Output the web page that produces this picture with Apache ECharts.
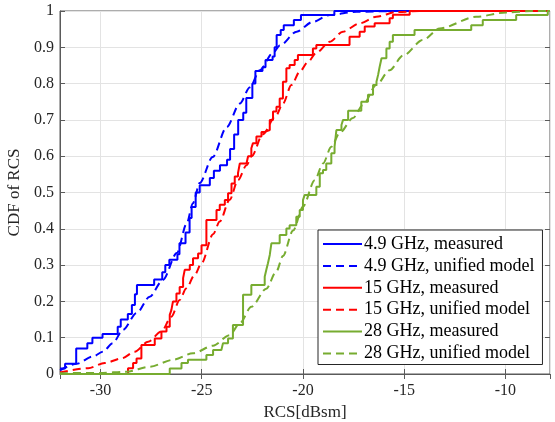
<!DOCTYPE html>
<html>
<head>
<meta charset="utf-8">
<script src="https://cdn.jsdelivr.net/npm/echarts@6/dist/echarts.min.js"></script>
<style>html,body{margin:0;padding:0;background:#fff}#c{width:555px;height:422px}</style>
</head>
<body>
<div id="c"></div>
<script>
const legendNames = ['4.9 GHz, measured', '4.9 GHz, unified model', '15 GHz, measured', '15 GHz, unified model', '28 GHz, measured', '28 GHz, unified model'];
const xTicks = [-30, -25, -20, -15, -10];

const blueMeasX = [-32.0, -31.75, -31.2, -30.65, -30.4, -29.9, -29.15, -29.0, -28.65, -28.45, -28.3, -28.2, -27.35, -26.95, -26.8, -26.6, -26.2, -26.1, -25.8, -25.6, -25.5, -25.3, -25.1, -24.6, -24.4, -24.1, -23.75, -23.6, -23.4, -23.2, -22.95, -22.8, -22.5, -22.35, -22.0, -21.85, -21.5, -21.4, -21.3, -21.1, -20.95, -20.45, -20.1, -18.45, -7.8];
const blueMeasY = [0.015, 0.028, 0.07, 0.085, 0.1, 0.11, 0.13, 0.15, 0.165, 0.19, 0.22, 0.245, 0.26, 0.28, 0.3, 0.315, 0.33, 0.36, 0.39, 0.43, 0.46, 0.5, 0.52, 0.54, 0.56, 0.575, 0.59, 0.62, 0.66, 0.70, 0.72, 0.76, 0.80, 0.835, 0.845, 0.865, 0.875, 0.9, 0.934, 0.948, 0.961, 0.975, 0.989, 1.0, 1.0];

const blueModelX = [-32.0, -31.18, -30.38, -29.89, -29.39, -28.9, -28.21, -27.57, -26.92, -26.23, -25.74, -25.44, -25.1, -24.46, -23.77, -23.12, -22.62, -22.13, -21.49, -21.14, -20.31, -19.52, -18.68, -17.35, -15.2, -7.8];
const blueModelY = [0.01, 0.028, 0.048, 0.061, 0.085, 0.121, 0.168, 0.213, 0.259, 0.333, 0.415, 0.47, 0.526, 0.598, 0.68, 0.745, 0.79, 0.837, 0.884, 0.905, 0.943, 0.97, 0.989, 0.998, 1.0, 1.0];

const redMeasX = [-32.0, -28.64, -28.39, -28.22, -27.98, -27.32, -26.99, -26.74, -26.58, -26.5, -26.42, -26.25, -26.09, -25.92, -25.84, -25.59, -25.43, -25.18, -25.01, -24.77, -24.27, -24.11, -23.86, -23.7, -23.53, -23.37, -23.21, -23.12, -22.79, -22.71, -22.55, -22.47, -22.3, -22.05, -21.89, -21.64, -21.48, -21.31, -21.15, -20.99, -20.82, -20.66, -20.41, -20.25, -19.51, -19.34, -17.7, -17.2, -16.95, -16.46, -15.72, -15.56, -14.73, -7.8];
const redMeasY = [0.0, 0.016, 0.03, 0.043, 0.08, 0.098, 0.117, 0.13, 0.163, 0.176, 0.2, 0.222, 0.24, 0.264, 0.287, 0.30, 0.319, 0.332, 0.355, 0.424, 0.452, 0.466, 0.479, 0.498, 0.525, 0.544, 0.553, 0.58, 0.585, 0.6, 0.622, 0.636, 0.654, 0.667, 0.672, 0.70, 0.723, 0.736, 0.759, 0.805, 0.842, 0.851, 0.865, 0.879, 0.897, 0.906, 0.929, 0.943, 0.957, 0.966, 0.98, 0.99, 1.0, 1.0];

const redModelX = [-32.0, -30.61, -29.79, -28.96, -28.31, -27.65, -26.99, -26.5, -26.09, -25.76, -25.35, -25.01, -24.44, -24.11, -23.62, -23.21, -22.79, -22.53, -21.99, -21.35, -20.99, -20.57, -20.16, -19.75, -19.34, -18.68, -18.03, -17.2, -16.38, -15.39, -14.24, -7.8];
const redModelY = [0.004, 0.016, 0.03, 0.043, 0.061, 0.089, 0.117, 0.158, 0.204, 0.236, 0.273, 0.305, 0.385, 0.42, 0.48, 0.534, 0.575, 0.60, 0.66, 0.71, 0.745, 0.796, 0.833, 0.86, 0.885, 0.915, 0.943, 0.966, 0.984, 0.997, 1.0, 1.0];

const greenMeasX = [-32.0, -26.58, -26.0, -25.68, -24.77, -24.44, -24.03, -23.95, -23.7, -23.46, -22.96, -22.55, -21.89, -21.81, -21.73, -21.64, -21.56, -21.15, -20.82, -20.66, -20.33, -20.16, -20.0, -19.92, -19.34, -19.17, -19.01, -18.85, -18.6, -18.44, -18.35, -18.1, -18.02, -17.77, -17.12, -16.79, -16.54, -16.37, -16.29, -16.21, -16.12, -15.88, -15.72, -15.56, -14.49, -11.69, -11.12, -9.47, -7.91, -7.8];
const greenMeasY = [0.0, 0.015, 0.03, 0.039, 0.052, 0.066, 0.071, 0.085, 0.098, 0.135, 0.218, 0.245, 0.268, 0.287, 0.305, 0.328, 0.36, 0.383, 0.401, 0.41, 0.433, 0.452, 0.479, 0.493, 0.516, 0.553, 0.562, 0.58, 0.608, 0.626, 0.672, 0.686, 0.70, 0.725, 0.75, 0.769, 0.796, 0.805, 0.824, 0.847, 0.87, 0.897, 0.915, 0.934, 0.948, 0.961, 0.975, 0.989, 1.0, 1.0];

const greenModelX = [-32.0, -30.03, -28.72, -27.57, -26.42, -25.43, -24.44, -23.62, -23.12, -22.55, -21.81, -21.31, -20.99, -20.49, -20.0, -19.42, -19.01, -18.6, -18.18, -17.53, -17.04, -16.38, -15.72, -15.06, -14.08, -13.25, -11.45, -9.96, -8.66, -7.8];
const greenModelY = [0.002, 0.003, 0.006, 0.02, 0.039, 0.057, 0.078, 0.107, 0.14, 0.185, 0.235, 0.283, 0.325, 0.395, 0.461, 0.534, 0.58, 0.626, 0.665, 0.705, 0.741, 0.796, 0.837, 0.877, 0.92, 0.952, 0.984, 0.996, 1.0, 1.0];

const BLUE = '#0000ff', RED = '#ff0000', GREEN = '#77ac30';
const FONT = '"Liberation Serif", "Times New Roman", serif';

function pairs(xs, ys) { return xs.map((x, i) => [x, ys[i]]); }

function measured(name, xs, ys, color) {
  return { name, type: 'line', data: pairs(xs, ys), step: 'end', symbol: 'none', clip: false,
    lineStyle: { color, width: 2 }, itemStyle: { color }, animation: false };
}
function model(name, xs, ys, color) {
  return { name, type: 'line', data: pairs(xs, ys), smooth: 0.3, smoothMonotone: 'x', symbol: 'none', clip: false,
    lineStyle: { color, width: 2, type: [8, 5] }, itemStyle: { color }, animation: false };
}

const chart = echarts.init(document.getElementById('c'), null, { renderer: 'canvas' });
chart.setOption({
  animation: false,
  backgroundColor: '#ffffff',
  grid: { left: 60, right: 5, top: 11, bottom: 48, show: true, borderColor: '#5a5a5a', borderWidth: 1, backgroundColor: 'transparent', outerBoundsMode: 'none', containLabel: false },
  legend: {
    data: legendNames, orient: 'vertical', left: 318, top: 230, width: 225,
    padding: [5, 8, 2, 4], itemWidth: 39, itemHeight: 14, itemGap: 3.9,
    backgroundColor: '#ffffff', borderColor: '#262626', borderWidth: 1, borderRadius: 0,
    selectedMode: false,
    itemStyle: { opacity: 0 },
    textStyle: { fontFamily: FONT, fontSize: 18, color: '#000000', padding: [0, 0, 0, -3] }
  },
  xAxis: [{
    type: 'value', min: -32, max: -7.8, splitNumber: 5,
    name: 'RCS[dBsm]', nameLocation: 'middle', nameGap: 30,
    nameTextStyle: { fontFamily: FONT, fontSize: 17, color: '#262626' },
    axisLine: { show: true, onZero: false, lineStyle: { color: '#5a5a5a', width: 1 } },
    axisTick: { show: true, inside: true, length: 5, lineStyle: { color: '#5a5a5a' } },
    axisLabel: { fontFamily: FONT, fontSize: 16, color: '#262626', margin: 9, showMinLabel: false, showMaxLabel: false,
      formatter: v => (xTicks.indexOf(v) >= 0 ? String(v) : '') },
    splitLine: { show: true, lineStyle: { color: '#e3e3e3', width: 1 } }
  }, {
    type: 'value', min: -32, max: -7.8, splitNumber: 5, position: 'top',
    axisLine: { show: false }, axisTick: { show: true, inside: true, length: 5, lineStyle: { color: '#5a5a5a' } },
    axisLabel: { show: false }, splitLine: { show: false }
  }],
  yAxis: [{
    type: 'value', min: 0, max: 1, interval: 0.1,
    name: 'CDF of RCS', nameLocation: 'middle', nameGap: 32, nameRotate: 90,
    nameTextStyle: { fontFamily: FONT, fontSize: 17, color: '#262626' },
    axisLine: { show: true, onZero: false, lineStyle: { color: '#5a5a5a', width: 1 } },
    axisTick: { show: true, inside: true, length: 5, lineStyle: { color: '#5a5a5a' } },
    axisLabel: { fontFamily: FONT, fontSize: 16, color: '#262626', margin: 6 },
    splitLine: { show: true, lineStyle: { color: '#e3e3e3', width: 1 } }
  }, {
    type: 'value', min: 0, max: 1, interval: 0.1, position: 'right',
    axisLine: { show: false }, axisTick: { show: true, inside: true, length: 5, lineStyle: { color: '#5a5a5a' } },
    axisLabel: { show: false }, splitLine: { show: false }
  }],
  series: [
    measured(legendNames[0], blueMeasX, blueMeasY, BLUE),
    model(legendNames[1], blueModelX, blueModelY, BLUE),
    measured(legendNames[2], redMeasX, redMeasY, RED),
    model(legendNames[3], redModelX, redModelY, RED),
    measured(legendNames[4], greenMeasX, greenMeasY, GREEN),
    model(legendNames[5], greenModelX, greenModelY, GREEN)
  ]
});
</script>
</body>
</html>
